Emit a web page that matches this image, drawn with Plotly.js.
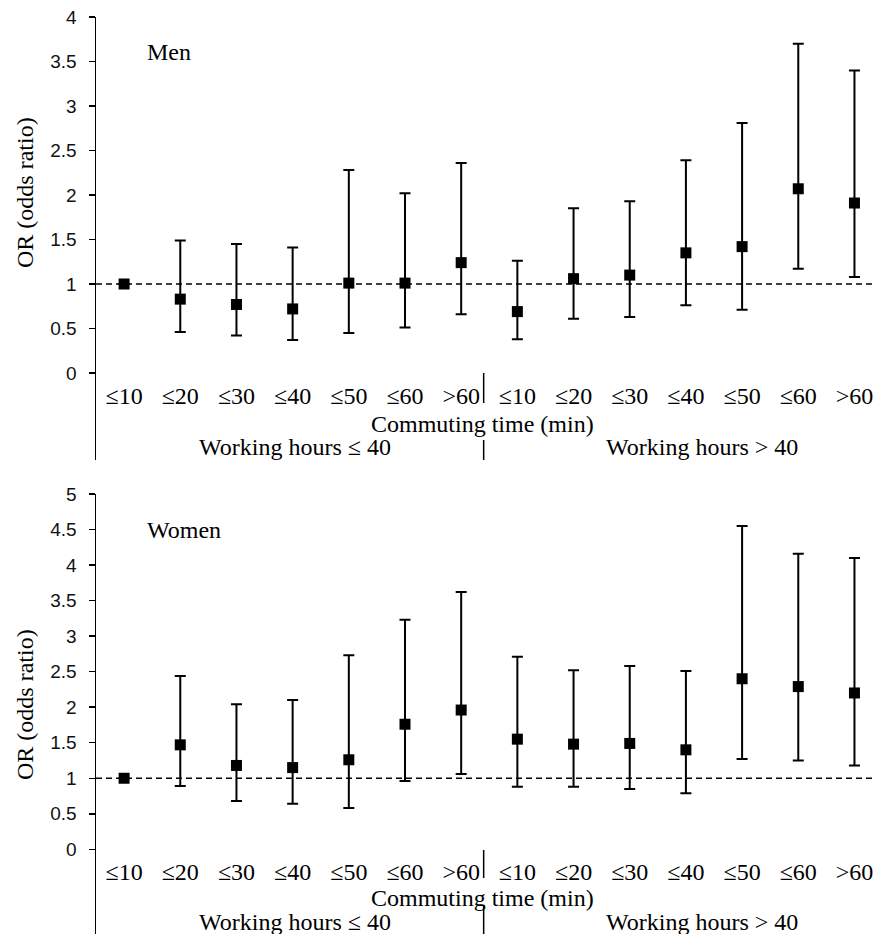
<!DOCTYPE html>
<html>
<head>
<meta charset="utf-8">
<script src="https://cdn.plot.ly/plotly-3.0.1.min.js"></script>
<style>html,body{margin:0;padding:0;background:#fff;}#chart{width:873px;height:934px;}</style>
</head>
<body>
<div id="chart"></div>
<script>
// Categories (commuting time), two groups of working hours
const categories = ["≤10","≤20","≤30","≤40","≤50","≤60",">60","≤10 ","≤20 ","≤30 ","≤40 ","≤50 ","≤60 ",">60 "];
const tickLabels = ["≤10","≤20","≤30","≤40","≤50","≤60",">60","≤10","≤20","≤30","≤40","≤50","≤60",">60"];

// Men: odds ratio and 95% CI
const menOR    = [1.00, 0.83, 0.77, 0.72, 1.01, 1.01, 1.24, 0.69, 1.06, 1.10, 1.35, 1.42, 2.07, 1.91];
const menUpper = [1.00, 1.49, 1.45, 1.41, 2.28, 2.02, 2.36, 1.26, 1.85, 1.93, 2.39, 2.81, 3.70, 3.40];
const menLower = [1.00, 0.46, 0.42, 0.37, 0.45, 0.51, 0.66, 0.38, 0.61, 0.63, 0.76, 0.71, 1.17, 1.08];

// Women: odds ratio and 95% CI
const womenOR    = [1.00, 1.47, 1.18, 1.15, 1.26, 1.76, 1.96, 1.55, 1.48, 1.49, 1.40, 2.40, 2.29, 2.20];
const womenUpper = [1.00, 2.44, 2.04, 2.10, 2.73, 3.23, 3.62, 2.71, 2.52, 2.58, 2.51, 4.55, 4.16, 4.10];
const womenLower = [1.00, 0.89, 0.68, 0.64, 0.58, 0.96, 1.06, 0.88, 0.88, 0.85, 0.79, 1.27, 1.25, 1.18];

const menTicks = [0, 0.5, 1, 1.5, 2, 2.5, 3, 3.5, 4];
const womenTicks = [0, 0.5, 1, 1.5, 2, 2.5, 3, 3.5, 4, 4.5, 5];

const W = 873, H = 934;
const px = v => v / W;
const py = v => 1 - v / H;

function trace(vals, up, lo, xa, ya) {
  return {
    type: 'scatter', mode: 'markers',
    x: categories, y: vals, xaxis: xa, yaxis: ya,
    marker: {symbol: 'square', size: 11, color: '#000'},
    error_y: {
      type: 'data', symmetric: false,
      array: up.map((u, i) => u - vals[i]),
      arrayminus: lo.map((l, i) => vals[i] - l),
      color: '#000', thickness: 2, width: 5.5
    },
    showlegend: false, hoverinfo: 'skip'
  };
}

const serif = 'Liberation Serif, Times New Roman, serif';
const sans = 'Liberation Sans, Arial, sans-serif';

function xaxisDef(pos) {
  return {
    type: 'category', categoryorder: 'array', categoryarray: categories,
    tickvals: categories, ticktext: tickLabels,
    range: [-0.5, 13.33], domain: [px(96), 1],
    anchor: 'free', position: pos,
    showline: false, showgrid: false, zeroline: false, ticks: '',
    tickfont: {family: serif, size: 24, color: '#000'},
    ticklabelstandoff: 6, ticklabeloverflow: 'allow', fixedrange: true
  };
}
function yaxisDef(dom, rng, tv, xa) {
  return {
    domain: dom, range: rng, anchor: xa,
    tickvals: tv, ticktext: tv.map(String),
    showline: true, linecolor: '#000', linewidth: 1.5,
    ticks: 'outside', ticklen: 6, tickwidth: 1.5, tickcolor: '#000',
    showgrid: false, zeroline: false,
    tickfont: {family: sans, size: 19, color: '#111'},
    ticklabelstandoff: 8, fixedrange: true
  };
}

const data = [
  trace(menOR, menUpper, menLower, 'x', 'y'),
  trace(womenOR, womenUpper, womenLower, 'x2', 'y2')
];

const sepX = 6.4;
const shapes = [
  {type: 'line', xref: 'x', yref: 'y', x0: -0.5, x1: 13.33, y0: 1, y1: 1, line: {color: '#000', width: 1.5, dash: '6px,4px'}},
  {type: 'line', xref: 'x2', yref: 'y2', x0: -0.5, x1: 13.33, y0: 1, y1: 1, line: {color: '#000', width: 1.5, dash: '6px,4px'}},
  {type: 'line', xref: 'x', yref: 'paper', x0: sepX, x1: sepX, y0: py(373), y1: py(403), line: {color: '#000', width: 1.5}},
  {type: 'line', xref: 'x', yref: 'paper', x0: sepX, x1: sepX, y0: py(440), y1: py(460), line: {color: '#000', width: 1.5}},
  {type: 'line', xref: 'x2', yref: 'paper', x0: sepX, x1: sepX, y0: py(850), y1: py(878), line: {color: '#000', width: 1.5}},
  {type: 'line', xref: 'x2', yref: 'paper', x0: sepX, x1: sepX, y0: py(905), y1: py(934), line: {color: '#000', width: 1.5}}
];

function ann(text, x, y, xanchor, extra) {
  return Object.assign({text: text, xref: 'paper', yref: 'paper', x: x, y: y,
    xanchor: xanchor, yanchor: 'middle', showarrow: false,
    font: {family: serif, size: 24, color: '#000'}}, extra || {});
}

const annotations = [
  ann('Men', px(145), py(52), 'left'),
  ann('Women', px(145), py(530), 'left'),
  ann('Commuting time (min)', px(482.5), py(424), 'center'),
  ann('Commuting time (min)', px(482.5), py(898), 'center'),
  ann('Working hours ≤ 40', px(295), py(447), 'center'),
  ann('Working hours > 40', px(702), py(447), 'center'),
  ann('Working hours ≤ 40', px(295), py(922), 'center'),
  ann('Working hours > 40', px(702), py(922), 'center'),
  ann('OR (odds ratio)', px(25), py(193), 'center', {textangle: -90}),
  ann('OR (odds ratio)', px(25), py(705), 'center', {textangle: -90})
];

const layout = {
  width: W, height: H,
  margin: {l: 0, r: 0, t: 0, b: 0},
  paper_bgcolor: '#fff', plot_bgcolor: 'rgba(0,0,0,0)',
  xaxis: xaxisDef(py(373)),
  xaxis2: xaxisDef(py(849.3)),
  yaxis: yaxisDef([py(460), py(17)], [-(460 - 373) / 89, 4], menTicks, 'x'),
  yaxis2: yaxisDef([0, py(494)], [-(934 - 849.3) / 71.07, 5], womenTicks, 'x2'),
  shapes: shapes,
  annotations: annotations,
  showlegend: false
};

Plotly.newPlot('chart', data, layout, {staticPlot: true, displayModeBar: false});
</script>
</body>
</html>
